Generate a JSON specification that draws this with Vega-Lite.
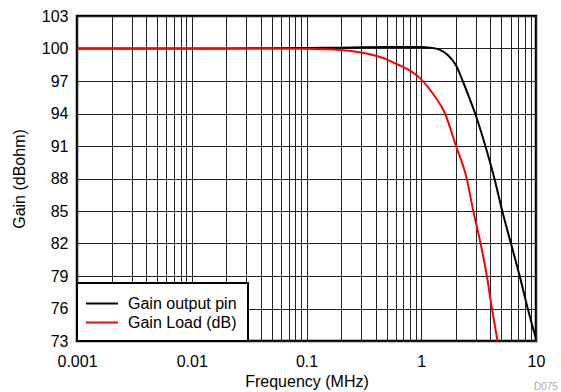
{
  "$schema": "https://vega.github.io/schema/vega-lite/v6.json",
  "autosize": {"type": "none"},
  "padding": {"left": 77, "top": 16, "right": 25, "bottom": 51},
  "width": 459,
  "height": 325,
  "background": "white",
  "title": {"text": "D075", "orient": "bottom", "anchor": "end", "align": "right", "fontSize": 10, "fontWeight": "normal", "color": "#aaaaaa", "font": "Liberation Sans", "offset": -7, "dx": 13},
  "config": {
    "font": "Liberation Sans",
    "view": {"stroke": "black", "strokeWidth": 2.5},
    "legend": {"strokeColor": "black", "strokeWidth": 2, "fillColor": "white"},
    "axis": {"gridColor": "#222222", "gridOpacity": 1, "gridWidth": 1, "ticks": false, "domain": false, "labelFontSize": 16, "titleFontSize": 16, "titleFontWeight": "normal", "labelColor": "black", "titleColor": "black", "labelFont": "Liberation Sans", "titleFont": "Liberation Sans"}
  },
  "data": {"values": [
    {"f": 0.001, "g": 100, "s": "Gain output pin"},
    {"f": 0.01, "g": 100, "s": "Gain output pin"},
    {"f": 0.05, "g": 100.02, "s": "Gain output pin"},
    {"f": 0.1, "g": 100.05, "s": "Gain output pin"},
    {"f": 0.2, "g": 100.08, "s": "Gain output pin"},
    {"f": 0.5, "g": 100.13, "s": "Gain output pin"},
    {"f": 0.8, "g": 100.15, "s": "Gain output pin"},
    {"f": 1.0, "g": 100.15, "s": "Gain output pin"},
    {"f": 1.2, "g": 100.08, "s": "Gain output pin"},
    {"f": 1.44, "g": 99.9, "s": "Gain output pin"},
    {"f": 1.7, "g": 99.4, "s": "Gain output pin"},
    {"f": 2.0, "g": 98.48, "s": "Gain output pin"},
    {"f": 2.3, "g": 97.0, "s": "Gain output pin"},
    {"f": 2.6, "g": 95.55, "s": "Gain output pin"},
    {"f": 2.95, "g": 94.0, "s": "Gain output pin"},
    {"f": 3.62, "g": 91.0, "s": "Gain output pin"},
    {"f": 4.34, "g": 88.0, "s": "Gain output pin"},
    {"f": 5.08, "g": 85.0, "s": "Gain output pin"},
    {"f": 6.05, "g": 82.0, "s": "Gain output pin"},
    {"f": 7.21, "g": 79.0, "s": "Gain output pin"},
    {"f": 8.47, "g": 76.0, "s": "Gain output pin"},
    {"f": 10, "g": 73.2, "s": "Gain output pin"},
    {"f": 0.001, "g": 100, "s": "Gain Load (dB)"},
    {"f": 0.01, "g": 100, "s": "Gain Load (dB)"},
    {"f": 0.05, "g": 99.99, "s": "Gain Load (dB)"},
    {"f": 0.087, "g": 99.97, "s": "Gain Load (dB)"},
    {"f": 0.2, "g": 99.86, "s": "Gain Load (dB)"},
    {"f": 0.3, "g": 99.63, "s": "Gain Load (dB)"},
    {"f": 0.4, "g": 99.33, "s": "Gain Load (dB)"},
    {"f": 0.5, "g": 99.0, "s": "Gain Load (dB)"},
    {"f": 0.6, "g": 98.6, "s": "Gain Load (dB)"},
    {"f": 0.8, "g": 97.95, "s": "Gain Load (dB)"},
    {"f": 1.0, "g": 97.15, "s": "Gain Load (dB)"},
    {"f": 1.27, "g": 95.8, "s": "Gain Load (dB)"},
    {"f": 1.61, "g": 94.0, "s": "Gain Load (dB)"},
    {"f": 2.01, "g": 91.0, "s": "Gain Load (dB)"},
    {"f": 2.49, "g": 88.0, "s": "Gain Load (dB)"},
    {"f": 2.84, "g": 85.0, "s": "Gain Load (dB)"},
    {"f": 3.29, "g": 82.0, "s": "Gain Load (dB)"},
    {"f": 3.73, "g": 79.0, "s": "Gain Load (dB)"},
    {"f": 4.13, "g": 76.0, "s": "Gain Load (dB)"},
    {"f": 4.62, "g": 73.0, "s": "Gain Load (dB)"}
  ]},
  "mark": {"type": "line", "strokeWidth": 2, "interpolate": "monotone", "clip": true},
  "encoding": {
    "x": {"field": "f", "type": "quantitative",
      "scale": {"type": "log", "domain": [0.001, 10], "nice": false},
      "axis": {"title": "Frequency (MHz)", "format": ".3~f", "labelFlush": false, "labelOverlap": false, "labelPadding": 12, "titlePadding": 4,
        "values": [0.001,0.002,0.003,0.004,0.005,0.006,0.007,0.008,0.009,0.01,0.02,0.03,0.04,0.05,0.06,0.07,0.08,0.09,0.1,0.2,0.3,0.4,0.5,0.6,0.7,0.8,0.9,1,2,3,4,5,6,7,8,9,10],
        "labelExpr": "indexof([0.001,0.01,0.1,1,10], datum.value) >= 0 ? datum.label : ''"}},
    "y": {"field": "g", "type": "quantitative",
      "scale": {"domain": [73, 103], "nice": false, "zero": false},
      "axis": {"title": "Gain (dBohm)", "values": [73,76,79,82,85,88,91,94,97,100,103], "labelPadding": 9, "titlePadding": 14}},
    "color": {"field": "s", "type": "nominal",
      "scale": {"domain": ["Gain output pin", "Gain Load (dB)"], "range": ["black", "red"]},
      "legend": {"title": null, "orient": "bottom-left", "offset": 0, "padding": 10.5, "symbolType": "M-1.28,0H2.28", "symbolSize": 324, "symbolStrokeWidth": 2, "labelFontSize": 16, "labelOffset": 20.5, "rowPadding": 1, "labelColor": "black"}}
  }
}
